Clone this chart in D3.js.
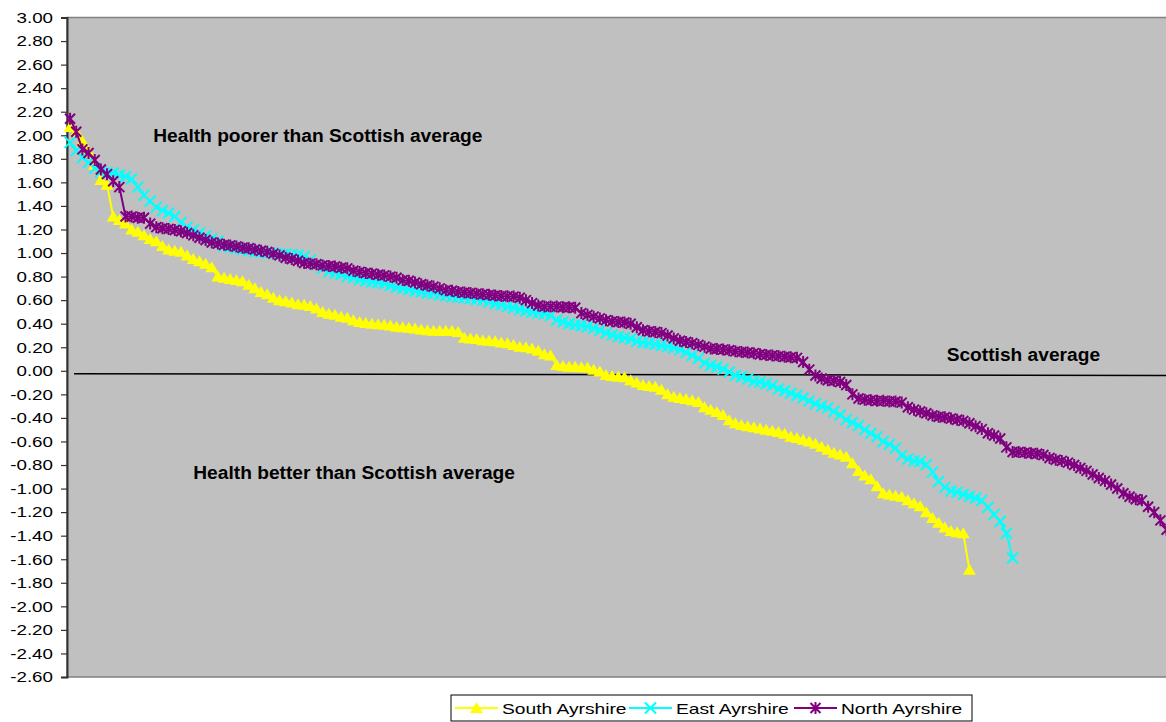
<!DOCTYPE html>
<html>
<head>
<meta charset="utf-8">
<script src="https://cdn.jsdelivr.net/npm/d3@7"></script>
<style>
  html, body { margin: 0; padding: 0; background: #ffffff; }
  svg { display: block; font-family: "Liberation Sans", Arial, sans-serif; }
</style>
</head>
<body>
<svg id="chart" width="1166" height="722"></svg>
<script>
// Health index by data zone, ranked from poorest to best health (0 = Scottish average)
const southAyrshire = [
  2.07, 2.03, 1.95, 1.86, 1.75, 1.62, 1.58, 1.31, 1.28, 1.25,
  1.20, 1.18, 1.15, 1.12, 1.10, 1.06, 1.03, 1.02, 1.01, 0.98,
  0.95, 0.93, 0.91, 0.88, 0.80, 0.79, 0.78, 0.77, 0.76, 0.73,
  0.70, 0.67, 0.65, 0.62, 0.60, 0.59, 0.58, 0.565, 0.56, 0.55,
  0.53, 0.50, 0.485, 0.475, 0.46, 0.45, 0.43, 0.415, 0.405, 0.40,
  0.395, 0.39, 0.385, 0.375, 0.37, 0.365, 0.36, 0.35, 0.345, 0.34,
  0.34, 0.34, 0.34, 0.33, 0.28, 0.275, 0.27, 0.26, 0.255, 0.25,
  0.24, 0.235, 0.22, 0.205, 0.20, 0.19, 0.17, 0.14, 0.13, 0.05,
  0.04, 0.035, 0.035, 0.03, 0.027, 0.01, -0.005, -0.036, -0.045, -0.05,
  -0.055, -0.08, -0.10, -0.12, -0.13, -0.135, -0.16, -0.20, -0.22, -0.23,
  -0.24, -0.25, -0.265, -0.31, -0.33, -0.35, -0.375, -0.42, -0.445, -0.46,
  -0.47, -0.48, -0.49, -0.50, -0.51, -0.52, -0.535, -0.56, -0.57, -0.585,
  -0.60, -0.62, -0.645, -0.67, -0.695, -0.71, -0.73, -0.785, -0.85, -0.89,
  -0.92, -0.98, -1.04, -1.05, -1.06, -1.07, -1.10, -1.125, -1.15, -1.20,
  -1.25, -1.29, -1.33, -1.36, -1.37, -1.38, -1.69
];

const eastAyrshire = [
  1.94, 1.87, 1.81, 1.77, 1.72, 1.69, 1.68, 1.68, 1.66, 1.65,
  1.63, 1.56, 1.49, 1.44, 1.39, 1.36, 1.34, 1.31, 1.26, 1.22,
  1.195, 1.17, 1.145, 1.12, 1.10, 1.06, 1.05, 1.04, 1.03, 1.02,
  1.01, 1.01, 1.00, 1.00, 0.99, 0.99, 0.985, 0.98, 0.97, 0.94,
  0.90, 0.87, 0.84, 0.83, 0.82, 0.80, 0.79, 0.775, 0.765, 0.755,
  0.75, 0.74, 0.725, 0.71, 0.70, 0.69, 0.68, 0.67, 0.66, 0.655,
  0.645, 0.64, 0.63, 0.625, 0.62, 0.615, 0.605, 0.60, 0.585, 0.57,
  0.56, 0.545, 0.535, 0.52, 0.51, 0.50, 0.49, 0.485, 0.47, 0.43,
  0.415, 0.40, 0.39, 0.385, 0.375, 0.36, 0.345, 0.32, 0.305, 0.29,
  0.28, 0.27, 0.25, 0.24, 0.235, 0.225, 0.215, 0.205, 0.195, 0.18,
  0.155, 0.13, 0.105, 0.065, 0.045, 0.035, 0.015, -0.01, -0.04, -0.05,
  -0.07, -0.09, -0.095, -0.11, -0.125, -0.155, -0.17, -0.19, -0.21, -0.23,
  -0.255, -0.28, -0.30, -0.315, -0.345, -0.375, -0.415, -0.44, -0.465, -0.50,
  -0.53, -0.56, -0.60, -0.625, -0.655, -0.72, -0.75, -0.765, -0.77, -0.795,
  -0.86, -0.94, -0.99, -1.02, -1.03, -1.05, -1.065, -1.08, -1.10, -1.16,
  -1.22, -1.28, -1.38, -1.59
];

const northAyrshire = [
  2.14, 2.03, 1.88, 1.85, 1.79, 1.71, 1.67, 1.61, 1.56, 1.31,
  1.31, 1.30, 1.30, 1.25, 1.22, 1.21, 1.205, 1.195, 1.185, 1.17,
  1.15, 1.13, 1.11, 1.09, 1.08, 1.07, 1.065, 1.055, 1.045, 1.04,
  1.03, 1.02, 1.01, 0.995, 0.98, 0.96, 0.95, 0.935, 0.915, 0.91,
  0.905, 0.895, 0.89, 0.885, 0.875, 0.87, 0.85, 0.84, 0.83, 0.825,
  0.815, 0.81, 0.80, 0.79, 0.77, 0.765, 0.75, 0.735, 0.725, 0.715,
  0.70, 0.685, 0.68, 0.67, 0.665, 0.66, 0.655, 0.65, 0.645, 0.64,
  0.635, 0.632, 0.63, 0.62, 0.60, 0.575, 0.555, 0.545, 0.545, 0.545,
  0.54, 0.54, 0.535, 0.49, 0.475, 0.46, 0.445, 0.43, 0.42, 0.415,
  0.41, 0.40, 0.37, 0.345, 0.335, 0.33, 0.32, 0.30, 0.275, 0.255,
  0.245, 0.235, 0.22, 0.205, 0.19, 0.185, 0.18, 0.175, 0.165, 0.16,
  0.155, 0.15, 0.14, 0.135, 0.13, 0.125, 0.12, 0.115, 0.11, 0.075,
  0.01, -0.04, -0.065, -0.08, -0.085, -0.095, -0.12, -0.20, -0.235, -0.245,
  -0.25, -0.255, -0.255, -0.26, -0.26, -0.27, -0.31, -0.33, -0.345, -0.36,
  -0.38, -0.39, -0.395, -0.405, -0.415, -0.425, -0.445, -0.47, -0.495, -0.53,
  -0.55, -0.575, -0.65, -0.69, -0.69, -0.695, -0.70, -0.705, -0.715, -0.74,
  -0.755, -0.765, -0.78, -0.80, -0.825, -0.85, -0.88, -0.91, -0.935, -0.965,
  -1.00, -1.04, -1.07, -1.09, -1.10, -1.155, -1.20, -1.27, -1.35
];

const seriesNames = ["South Ayrshire", "East Ayrshire", "North Ayrshire"];
const seriesColors = ["#FFFF00", "#00FFFF", "#800080"];
const seriesMarkers = ["triangle", "cross", "star"];

const yTickValues = [3.0, 2.8, 2.6, 2.4, 2.2, 2.0, 1.8, 1.6, 1.4, 1.2, 1.0, 0.8, 0.6, 0.4, 0.2, 0.0,
  -0.2, -0.4, -0.6, -0.8, -1.0, -1.2, -1.4, -1.6, -1.8, -2.0, -2.2, -2.4, -2.6];

// Reference line drawn across the plot (rank position, value)
const averageLine = [[0.65, -0.025], [182, -0.04]];

const annotations = [
  { text: "Health poorer than Scottish average", rank: 13.5, value: 1.94 },
  { text: "Health better than Scottish average", rank: 20, value: -0.92 },
  { text: "Scottish average", rank: 142.3, value: 0.085 }
];

// ---- layout ----
const svg = d3.select("#chart");
const plot = { left: 67, top: 17.5, bottom: 677, step: 6.16 };
const categoryCount = northAyrshire.length;
plot.right = plot.left + categoryCount * plot.step;

const x = d3.scaleLinear().domain([-0.5, categoryCount - 0.5]).range([plot.left, plot.right]);
const y = d3.scaleLinear().domain([-2.6, 3.0]).range([plot.bottom, plot.top]);

// text in this chart is drawn wider than its natural proportions
function stretch(sel, sx) {
  sel.each(function () {
    const w = this.getComputedTextLength();
    this.setAttribute("textLength", (w * sx).toFixed(1));
    this.setAttribute("lengthAdjust", "spacingAndGlyphs");
  });
}

// plot background
svg.append("rect")
  .attr("x", plot.left).attr("y", plot.top)
  .attr("width", plot.right - plot.left).attr("height", plot.bottom - plot.top)
  .attr("fill", "#C0C0C0")
  .attr("stroke", "#808080").attr("stroke-width", 1.5);

// y axis
const yAxis = d3.axisLeft(y)
  .tickValues(yTickValues)
  .tickSize(6)
  .tickPadding(8)
  .tickFormat(d => d.toFixed(2));

const axisG = svg.append("g")
  .attr("transform", `translate(${plot.left},0)`)
  .call(yAxis);
axisG.select(".domain").attr("stroke", "#333").attr("stroke-width", 2);
axisG.selectAll(".tick line").attr("stroke", "#333").attr("stroke-width", 1.2);
axisG.selectAll(".tick text")
  .attr("fill", "#000")
  .style("font-family", '"Liberation Sans", Arial, sans-serif')
  .style("font-size", "15px")
  .call(stretch, 1.25);

// Scottish average line
svg.append("line")
  .attr("x1", x(averageLine[0][0])).attr("y1", y(averageLine[0][1]))
  .attr("x2", x(averageLine[1][0])).attr("y2", y(averageLine[1][1]))
  .attr("stroke", "#000").attr("stroke-width", 1.5);

// annotation text
svg.selectAll("text.note")
  .data(annotations)
  .join("text")
  .attr("class", "note")
  .attr("x", d => x(d.rank))
  .attr("y", d => y(d.value))
  .attr("font-size", 18)
  .attr("font-weight", "bold")
  .attr("fill", "#000")
  .text(d => d.text)
  .call(stretch, 1.065);

// marker shapes
function markerPath(kind) {
  if (kind === "triangle") return "M0,-6L6.5,5L-6.5,5Z";
  if (kind === "cross") return "M-5.5,-5.5L5.5,5.5M-5.5,5.5L5.5,-5.5";
  return "M-5,-5L5,5M-5,5L5,-5M0,-6L0,6";
}

function drawMarker(g, kind, color) {
  const p = g.append("path").attr("d", markerPath(kind));
  if (kind === "triangle") p.attr("fill", color).attr("stroke", "none");
  else p.attr("fill", "none").attr("stroke", color).attr("stroke-width", 2);
}

// series
svg.append("clipPath").attr("id", "plot-clip")
  .append("rect").attr("x", 0).attr("y", plot.top - 10)
  .attr("width", 1166).attr("height", plot.bottom - plot.top + 20);

const allSeries = [southAyrshire, eastAyrshire, northAyrshire];
const line = d3.line().x((d, i) => x(i)).y(d => y(d));

const seriesG = svg.append("g").attr("clip-path", "url(#plot-clip)");
allSeries.forEach((values, s) => {
  const g = seriesG.append("g");
  g.append("path")
    .datum(values)
    .attr("d", line)
    .attr("fill", "none")
    .attr("stroke", seriesColors[s])
    .attr("stroke-width", 2);
  g.selectAll("g.pt")
    .data(values)
    .join("g")
    .attr("class", "pt")
    .attr("transform", (d, i) => `translate(${x(i)},${y(d)})`)
    .each(function () { drawMarker(d3.select(this), seriesMarkers[s], seriesColors[s]); });
});

// legend
const legend = svg.append("g").attr("transform", "translate(451,695)");
legend.append("rect")
  .attr("width", 521).attr("height", 26)
  .attr("fill", "#fff").attr("stroke", "#000").attr("stroke-width", 1);

const legendOffsets = [4, 178, 343];
seriesNames.forEach((name, s) => {
  const item = legend.append("g").attr("transform", `translate(${legendOffsets[s]},13)`);
  item.append("line").attr("x1", 0).attr("x2", 43).attr("y1", 0).attr("y2", 0)
    .attr("stroke", seriesColors[s]).attr("stroke-width", 2);
  drawMarker(item.append("g").attr("transform", "translate(21.5,0)"), seriesMarkers[s], seriesColors[s]);
  item.append("text")
    .attr("x", 47).attr("y", 5.5)
    .attr("font-size", 15)
    .attr("fill", "#000")
    .text(name)
    .call(stretch, 1.28);
});
</script>
</body>
</html>
